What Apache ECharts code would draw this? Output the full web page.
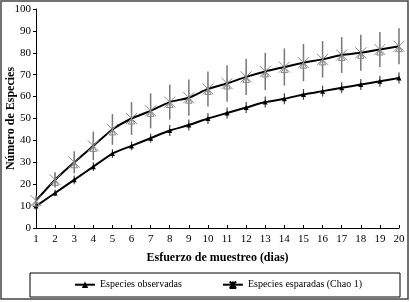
<!DOCTYPE html>
<html>
<head>
<meta charset="utf-8">
<script src="https://cdn.jsdelivr.net/npm/echarts@6/dist/echarts.min.js"></script>
<style>
  html, body { margin: 0; padding: 0; background: #fff; }
  #chart { width: 410px; height: 302px; }
</style>
</head>
<body>
<div id="chart"></div>
<script>
// dias de muestreo
var dias = [1, 2, 3, 4, 5, 6, 7, 8, 9, 10, 11, 12, 13, 14, 15, 16, 17, 18, 19, 20];
// especies observadas
var observadas = [10, 16, 22, 28, 34, 37.5, 41, 44.5, 47, 50, 52.5, 55, 57.5, 59, 61, 62.5, 64, 65.5, 67, 68.5];
var obsErr = [1.5, 1.5, 2, 2, 2, 2, 2, 2.5, 2.5, 2.5, 2.5, 2.5, 2.5, 2.5, 2.5, 2.5, 2.5, 2.5, 2.5, 2.5];
// especies esperadas (Chao 1)
var chao = [12.5, 22, 30, 37.5, 45, 50, 53.5, 57.5, 59.5, 63.5, 66, 69, 71.5, 73.5, 75.5, 77, 79, 80, 81.5, 83];
var chaoErr = [2, 3.5, 5, 6.5, 7, 7.5, 8, 8, 8.3, 8, 8.3, 8.3, 8.5, 8.5, 8.5, 8.3, 8.2, 8.2, 8, 8.2];
var yTicks = [0, 10, 20, 30, 40, 50, 60, 70, 80, 90, 100];

var font = 'Liberation Serif';
var asterisco = 'path://M0,0L10,10M10,0L0,10M5,0L5,10M5,5L8,10L2,10Z';

function pares(vals) {
    return dias.map(function (d, i) { return [d, vals[i]]; });
}
function barras(vals, errs) {
    return dias.map(function (d, i) { return [d, vals[i] - errs[i], vals[i] + errs[i]]; });
}
function dibujaBarra(color, w) {
    return function (params, api) {
        var a = api.coord([api.value(0), api.value(1)]);
        var b = api.coord([api.value(0), api.value(2)]);
        return {
            type: 'line',
            shape: { x1: a[0], y1: a[1], x2: b[0], y2: b[1] },
            style: { stroke: color, lineWidth: w }
        };
    };
}

var chart = echarts.init(document.getElementById('chart'));
var option = {
    animation: false,
    backgroundColor: '#fff',
    textStyle: { fontFamily: font, color: '#000' },
    grid: { left: 36, right: 11, top: 9, bottom: 74, containLabel: false, outerBoundsMode: 'none' },
    xAxis: {
        type: 'value', min: 1, max: 20, interval: 1,
        name: 'Esfuerzo de muestreo (dias)',
        nameLocation: 'middle', nameGap: 24, nameMoveOverlap: false,
        nameTextStyle: { fontFamily: font, fontWeight: 'bold', fontSize: 12, color: '#000' },
        axisLine: { lineStyle: { color: '#000', width: 1 } },
        axisTick: { inside: true, length: 3, lineStyle: { color: '#000' } },
        axisLabel: { fontFamily: font, fontSize: 11, color: '#000', margin: 6 },
        splitLine: { show: false }
    },
    yAxis: {
        type: 'value', min: 0, max: 100, interval: 10,
        name: 'Número de Especies',
        nameLocation: 'middle', nameGap: 19, nameMoveOverlap: false,
        nameTextStyle: { fontFamily: font, fontWeight: 'bold', fontSize: 12, color: '#000' },
        axisLine: { show: true, lineStyle: { color: '#000', width: 1 } },
        axisTick: { show: true, length: 3, lineStyle: { color: '#000' } },
        axisLabel: {
            fontFamily: font, fontSize: 11, color: '#000', margin: 5,
            formatter: function (v) { return yTicks.indexOf(v) >= 0 ? String(v) : ''; }
        },
        splitLine: { show: false }
    },
    legend: {
        left: 74, top: 279, padding: 0, itemGap: 40, itemWidth: 20, itemHeight: 8,
        textStyle: { fontFamily: font, fontSize: 10, color: '#000' },
        data: [
            { name: 'Especies observadas' },
            { name: 'Especies esparadas (Chao 1)', itemStyle: { borderColor: '#000' } }
        ]
    },
    graphic: [
        { type: 'rect', shape: { x: 1, y: 1, width: 407, height: 298 }, style: { fill: 'none', stroke: '#444', lineWidth: 1.5 }, silent: true },
        { type: 'rect', shape: { x: 30, y: 273, width: 370, height: 24 }, style: { fill: 'none', stroke: '#000', lineWidth: 1 }, silent: true }
    ],
    series: [
        {
            type: 'custom', name: 'errChao', renderItem: dibujaBarra('#777', 1.5),
            data: barras(chao, chaoErr), z: 1, silent: true
        },
        {
            type: 'custom', name: 'errObs', renderItem: dibujaBarra('#444', 1.2),
            data: barras(observadas, obsErr), z: 1, silent: true
        },
        {
            name: 'Especies observadas', type: 'line', data: pares(observadas),
            smooth: 0.2, z: 3,
            lineStyle: { color: '#000', width: 2 },
            symbol: 'triangle', symbolSize: 5,
            itemStyle: { color: '#000' }
        },
        {
            name: 'Especies esparadas (Chao 1)', type: 'line', data: pares(chao),
            smooth: 0.2, z: 3,
            lineStyle: { color: '#000', width: 2 },
            symbol: asterisco, symbolSize: 11,
            itemStyle: { color: 'none', borderColor: '#888', borderWidth: 1 }
        }
    ]
};
chart.setOption(option);
</script>
</body>
</html>
